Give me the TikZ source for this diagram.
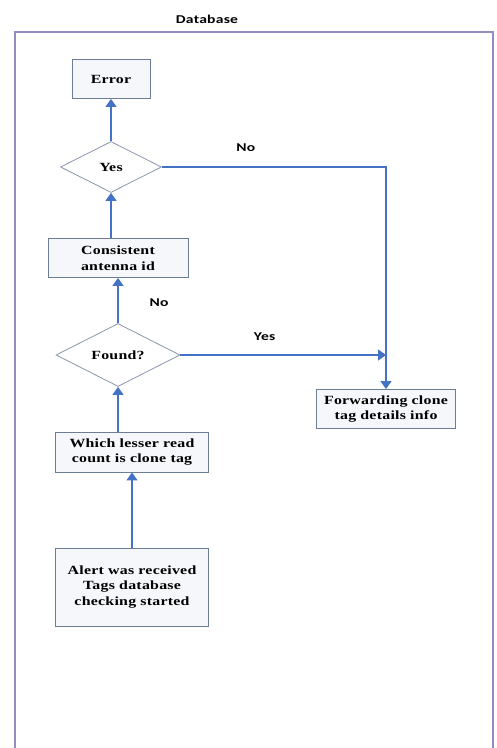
\documentclass[tikz,border=0pt]{standalone}
\usepackage{fontspec}
\setmainfont{Liberation Serif}[FakeStretch=1.27, LetterSpace=2]
\newfontfamily\lblfont{Carlito}[FakeStretch=1.3, LetterSpace=2]
\usepackage{tikz}
\usetikzlibrary{shapes.geometric, positioning, arrows.meta, calc}

\definecolor{flowblue}{RGB}{68,114,196}
\definecolor{boxline}{RGB}{110,125,150}
\definecolor{boxfill}{RGB}{245,247,251}
\definecolor{frameline}{RGB}{150,140,195}

\begin{document}
\begin{tikzpicture}[
  x=1pt, y=-1pt,
  >={Triangle[width=11pt,length=8pt]},
  procbox/.style={draw=boxline, fill=boxfill, line width=0.9pt, align=center, inner sep=2pt,
    font=\bfseries\fontsize{12.5}{15.5}\selectfont},
  decision/.style={diamond, draw=boxline!80, fill=white, line width=0.8pt, inner sep=0pt, align=center,
    font=\bfseries\fontsize{12.5}{15}\selectfont},
  lbl/.style={font=\lblfont\bfseries\fontsize{12}{14}\selectfont, inner sep=1pt},
  flow/.style={->, draw=flowblue, line width=1.4pt},
  frame/.style={draw=frameline, line width=1.2pt}
]
  \useasboundingbox (0,0) rectangle (496,748);

  %---------------- FRAME ----------------%
  \node[lbl] (dbtitle) at (207,19) {Database};
  \draw[frame] (15,748) -- (15,32) -- (493,32) -- (493,748);

  %---------------- NODES ----------------%
  \node[procbox, minimum width=78pt, minimum height=39pt] (error) at (111,79) {Error};
  \node[decision, minimum width=101pt, minimum height=51pt] (check) at (111,167) {Yes};
  \node[procbox, minimum width=140pt, minimum height=39pt] (consistent) at (118,258) {Consistent\\antenna id};
  \node[decision, minimum width=124pt, minimum height=63pt] (found) at (118,355) {Found?};
  \node[procbox, minimum width=153pt, minimum height=40pt] (which) at (132,452) {Which lesser read\\count is clone tag};
  \node[procbox, minimum width=153pt, minimum height=78pt] (alert) at (132,587) {Alert was received\\Tags database\\checking started};
  \node[procbox, minimum width=139pt, minimum height=39pt] (fwd) at (386,409) {Forwarding clone\\tag details info};

  %---------------- CONNECTORS ----------------%
  \draw[flow] (alert) -- (which);
  \draw[flow] (which.north -| found.south) -- (found.south);
  \draw[flow] (found) -- (consistent) node[lbl, pos=0.45, right=30pt] (lblno1) {No};
  \draw[flow] (consistent.north -| check.south) -- (check.south);
  \draw[flow] (check) -- (error);
  \draw[flow] (check.east) -| (fwd.north) node[lbl, pos=0.187, above=14pt] (lblno2) {No};
  \draw[flow] (found.east) -- (found.east -| fwd.north) node[lbl, pos=0.41, above=13pt] (lblyes) {Yes};

\end{tikzpicture}
\end{document}
